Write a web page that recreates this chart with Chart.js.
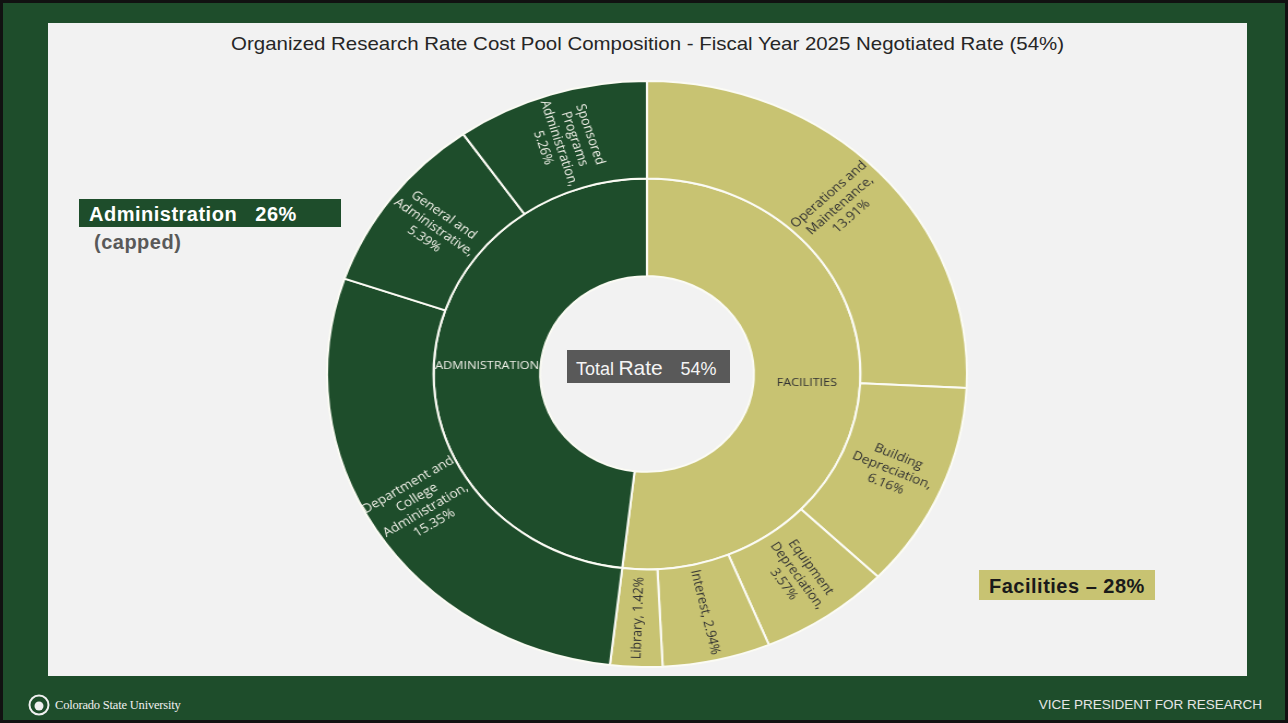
<!DOCTYPE html>
<html>
<head>
<meta charset="utf-8">
<title>Organized Research Rate Cost Pool Composition</title>
<script src="https://cdn.jsdelivr.net/npm/chart.js@4.4.1/dist/chart.umd.min.js"></script>
<style>
  body { margin: 0; width: 1288px; height: 723px; overflow: hidden; background: #111; font-family: "Liberation Sans", Arial, sans-serif; position: relative; }
  #frame { position: absolute; left: 3px; top: 3px; width: 1282px; height: 717px; background: #1e4d2b; }
  #panel { position: absolute; left: 48px; top: 23px; width: 1199px; height: 653px; background: #f2f2f2; }
  #title { position: absolute; left: 48px; top: 33px; width: 1199px; text-align: center; font-size: 18.5px; color: #262626; transform: scaleX(1.105); transform-origin: 599px 50%; }
  #chartBox { position: absolute; left: 347px; top: 74px; width: 600px; height: 600px; transform: scaleX(1.092); transform-origin: 50% 50%; }
  .tag { position: absolute; font-weight: bold; font-size: 20px; letter-spacing: 0.5px; white-space: pre; }
  #adminTag { left: 79px; top: 199px; width: 262px; height: 28px; background: #1e4d2b; color: #fff; line-height: 30px; text-indent: 10px; }
  #capped { left: 94px; top: 229px; color: #595959; line-height: 26px; }
  #facTag { left: 979px; top: 570px; width: 176px; height: 30px; background: #c8c372; color: #1a1a1a; line-height: 32px; text-indent: 10px; }
  #total { position: absolute; left: 567px; top: 350px; width: 163px; height: 33px; background: #595959; color: #f4f4f4; white-space: pre; line-height: 35px; }
  #total .s { font-size: 18px; }
  #total .b { font-size: 21px; }
  #vp { position: absolute; left: 1000px; top: 697px; width: 262px; text-align: right; font-size: 13.5px; color: #e6e6e6; }
  #csu { position: absolute; left: 28px; top: 693px; height: 24px; display: flex; align-items: center; color: #f0f0f0; font-family: "Liberation Serif", "DejaVu Serif", serif; font-size: 12.5px; letter-spacing: -0.2px; }
  #csu svg { margin-right: 5px; }
</style>
</head>
<body>
<div id="frame"></div>
<div id="panel"></div>
<div id="title">Organized Research Rate Cost Pool Composition - Fiscal Year 2025 Negotiated Rate (54%)</div>
<div id="chartBox"><canvas id="myChart"></canvas></div>
<div id="adminTag" class="tag">Administration   26%</div>
<div id="capped" class="tag">(capped)</div>
<div id="facTag" class="tag">Facilities – 28%</div>
<div id="total">  <span class="s">Total</span> <span class="b">Rate</span>    <span class="s">54%</span></div>
<div id="csu">
  <svg width="22" height="22" viewBox="0 0 22 22"><circle cx="11" cy="11" r="9.5" fill="none" stroke="#f0f0f0" stroke-width="2"/><circle cx="11" cy="12" r="4.5" fill="#f0f0f0"/></svg>
  <span>Colorado State University</span>
</div>
<div id="vp">VICE PRESIDENT FOR RESEARCH</div>

<script>
// inner ring: the two pools
const poolLabels = ["FACILITIES", "ADMINISTRATION"];
const poolValues = [28, 26];

// outer ring: cost pool components (clockwise from 12 o'clock)
const itemLabels = [
  ["Operations and", "Maintenance"],
  ["Building", "Depreciation"],
  ["Equipment", "Depreciation"],
  ["Interest"],
  ["Library"],
  ["Department and", "College", "Administration"],
  ["General and", "Administrative"],
  ["Sponsored", "Programs", "Administration"]
];
const itemValues = [13.91, 6.16, 3.57, 2.94, 1.42, 15.35, 5.39, 5.26];
const itemPool = ["FACILITIES", "FACILITIES", "FACILITIES", "FACILITIES", "FACILITIES",
                  "ADMINISTRATION", "ADMINISTRATION", "ADMINISTRATION"];

const fill = { FACILITIES: "#c8c372", ADMINISTRATION: "#1e4d2b" };
const ink = { FACILITIES: "#333333", ADMINISTRATION: "#eeeee6" };

// "Name," + value line, or "Name, value" for single line names
function labelLines(lines, v) {
  const txt = v.toFixed(2) + "%";
  if (lines.length === 1) return [lines[0] + ", " + txt];
  const out = lines.slice();
  out[out.length - 1] += ",";
  out.push(txt);
  return out;
}

const ringLabels = {
  id: "ringLabels",
  afterDatasetsDraw(chart) {
    const ctx = chart.ctx;
    chart.data.datasets.forEach((ds, di) => {
      const meta = chart.getDatasetMeta(di);
      meta.data.forEach((arc, i) => {
        const p = arc.getProps(["x", "y", "startAngle", "endAngle", "innerRadius", "outerRadius"], true);
        const a = (p.startAngle + p.endAngle) / 2;
        const r = (p.innerRadius + p.outerRadius) / 2;
        const lines = ds.textLines[i];
        ctx.save();
        ctx.translate(p.x + Math.cos(a) * r, p.y + Math.sin(a) * r);
        if (!ds.flatText) ctx.rotate(Math.cos(a) < 0 ? a + Math.PI : a);
        ctx.fillStyle = ds.textColor[i];
        ctx.font = ds.flatText ? "11.5px 'Open Sans', sans-serif" : "12.5px 'Open Sans', sans-serif";
        ctx.textAlign = "center";
        ctx.textBaseline = "middle";
        const lh = 15;
        lines.forEach((l, k) => ctx.fillText(l, 0, (k - (lines.length - 1) / 2) * lh));
        ctx.restore();
      });
    });
  }
};

const myChart = document.querySelector("#myChart");

new Chart(myChart, {
  type: "doughnut",
  data: {
    labels: itemLabels.map(l => l.join(" ")),
    datasets: [
      {
        label: "Components",
        data: itemValues,
        backgroundColor: itemPool.map(g => fill[g]),
        textColor: itemPool.map(g => ink[g]),
        textLines: itemLabels.map((l, i) => labelLines(l, itemValues[i])),
        borderColor: "#fbfbf4",
        borderWidth: 2
      },
      {
        label: "Pools",
        data: poolValues,
        backgroundColor: poolLabels.map(g => fill[g]),
        textColor: poolLabels.map(g => ink[g]),
        textLines: poolLabels.map(l => [l]),
        flatText: true,
        borderColor: "#fbfbf4",
        borderWidth: 2
      }
    ]
  },
  options: {
    responsive: true,
    maintainAspectRatio: false,
    animation: false,
    cutout: "33.4%",
    layout: { padding: 6 },
    events: [],
    plugins: {
      legend: { display: false },
      tooltip: { enabled: false }
    }
  },
  plugins: [ringLabels]
});
</script>
</body>
</html>
